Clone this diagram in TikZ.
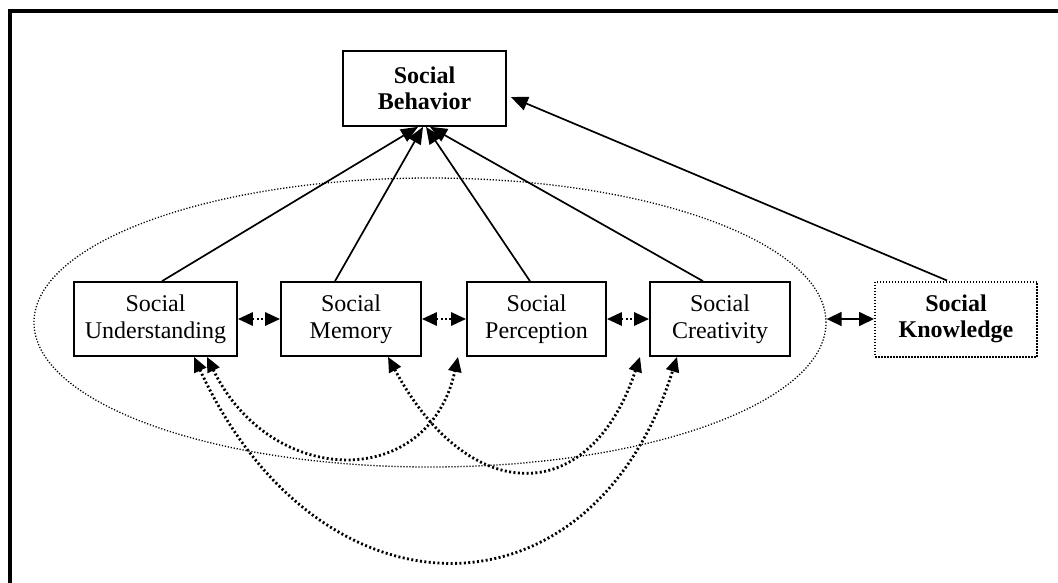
\documentclass[tikz,border=0pt]{standalone}
\usepackage{fontspec}
\setmainfont{Liberation Serif}
\usetikzlibrary{arrows.meta,shapes.geometric}
\begin{document}
\begin{tikzpicture}[x=1pt,y=-1pt,
  box/.style={draw,line width=1.7pt,inner sep=0pt,align=center,
    font=\fontsize{24}{27}\selectfont,minimum height=74pt},
  boldbox/.style={box,font=\fontsize{24}{26}\selectfont\bfseries},
  link/.style={line width=1.7pt,-{Triangle[length=17pt,width=14pt]}},
  pairlink/.style={line width=2.8pt,dash pattern=on 2pt off 2.4pt,
    {Triangle[length=15pt,width=13pt]}-{Triangle[length=15pt,width=13pt]}},
  halo/.style={draw,ellipse,line width=1.3pt,dash pattern=on 1.2pt off 1.8pt,
    inner sep=0pt}]
\useasboundingbox (0,0) rectangle (1058,582);
\clip (0,0) rectangle (1058,582);
% outer frame
\draw[line width=4pt] (10,11) rectangle (1080,600);

% grouping ellipse
\node[halo,minimum width=792pt,minimum height=289pt] (group) at (430,322.5) {};

% boxes
\node[boldbox,minimum width=163pt,minimum height=75pt] (beh) at (424.5,88.5) {Social\\Behavior};
\node[box,minimum width=163pt] (und) at (155.5,319) {Social\\Understanding};
\node[box,minimum width=140pt] (mem) at (351,319) {Social\\Memory};
\node[box,minimum width=139pt] (per) at (536.5,319) {Social\\Perception};
\node[box,minimum width=140pt] (cre) at (720,319) {Social\\Creativity};
\node[boldbox,minimum width=162pt,minimum height=75pt,line width=2pt,dash pattern=on 1.5pt off 1.5pt] (kno) at (956,319) {Social\\Knowledge};

% links to behaviour
\draw[link] ([xshift=6.5pt]und.north) -- ([xshift=-6.5pt]beh.south);
\draw[link] ([xshift=-16pt]mem.north) -- ([xshift=-1.5pt]beh.south);
\draw[link] ([xshift=-6.5pt]per.north) -- ([xshift=1.5pt]beh.south);
\draw[link] ([xshift=-17pt]cre.north) -- ([xshift=5.5pt]beh.south);
\draw[link] ([xshift=-9pt]kno.north) -- ([shift={(4,8.5)}]beh.east);

% neighbouring pairs
\draw[pairlink] (und.east) -- (mem.west);
\draw[pairlink] (mem.east) -- (per.west);
\draw[pairlink] (per.east) -- (cre.west);

% knowledge to the group
\draw[line width=1.7pt,{Triangle[length=15pt,width=14pt]}-{Triangle[length=15pt,width=14pt]}]
  (group.east |- kno.west) -- (kno.west);

% distant pairs
\draw[pairlink] ([xshift=38.5pt]und.south) .. controls +(125,271) and +(-85,271) .. ([xshift=-43pt]cre.south);
\draw[pairlink] ([xshift=51.5pt]und.south) .. controls +(64,132) and +(-29,134) .. ([xshift=-78.5pt]per.south);
\draw[pairlink] ([xshift=37pt]mem.south) .. controls +(81,151) and +(-50,151) .. ([xshift=-80pt]cre.south);
\end{tikzpicture}
\end{document}
